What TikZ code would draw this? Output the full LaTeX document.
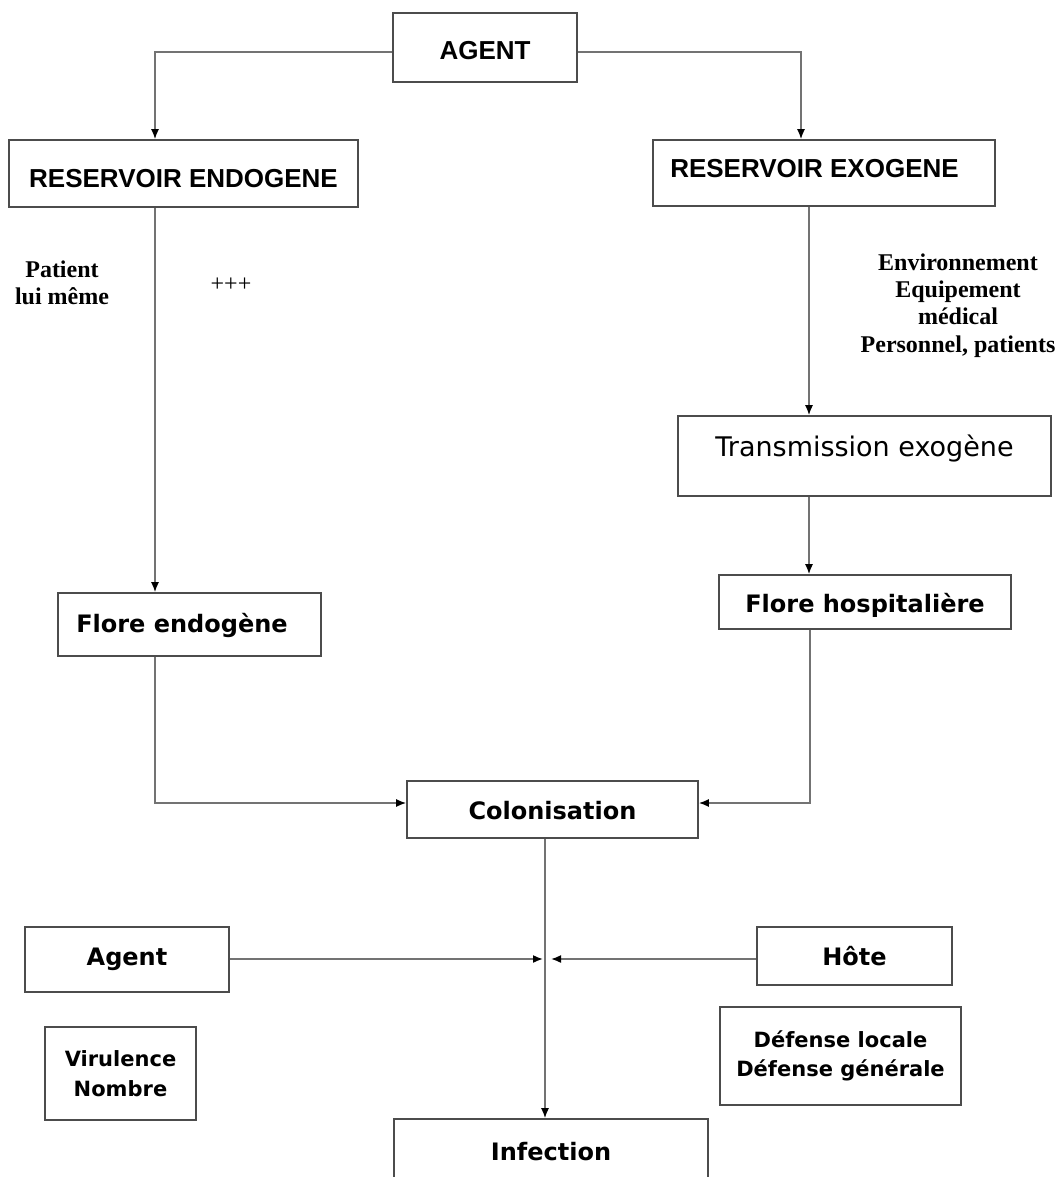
\documentclass[tikz,border=0pt]{standalone}
\usepackage{fontspec}
\newfontfamily\helv{Liberation Sans}
\newfontfamily\luc{DejaVu Sans}
\newfontfamily\tms{Liberation Serif}
\usetikzlibrary{arrows.meta}
\begin{document}
\begin{tikzpicture}[x=1pt,y=1pt,
  box/.style={draw=black!70, line width=1.6pt, inner sep=0pt, rectangle, fill=white},
  conn/.style={draw=black!55, line width=1.6pt, -{Latex[length=10pt,width=8pt,color=black]}},
  hb/.style={font=\helv\bfseries\fontsize{26}{31}\selectfont},
  lb/.style={font=\luc\bfseries\fontsize{24}{29}\selectfont},
  lr/.style={font=\luc\fontsize{27}{32}\selectfont},
  sb/.style={font=\luc\bfseries\fontsize{21}{29.5}\selectfont, align=center},
  tb/.style={font=\tms\bfseries\fontsize{24}{27.3}\selectfont, align=center},
  tr/.style={font=\tms\fontsize{24}{27}\selectfont}
]
\useasboundingbox (0,0) rectangle (1064,-1177);
\clip (0,0) rectangle (1064,-1177);

% boxes
\node[box,hb,minimum width=184pt,minimum height=69pt,text height=25pt,text depth=0pt] (agent) at (485,-47.5) {AGENT};
\node[box,hb,minimum width=349pt,minimum height=67pt,text height=27pt,text depth=0pt] (endo) at (183.5,-173.5) {RESERVOIR ENDOGENE};
\node[box,hb,minimum width=342pt,minimum height=66pt,text height=10pt,text depth=0pt] (exo) at (824,-173) {RESERVOIR EXOGENE\hspace*{19pt}};
\node[box,lr,minimum width=373pt,minimum height=80pt,text height=0pt,text depth=0pt] (trans) at (864.5,-456) {Transmission exogène};
\node[box,lb,minimum width=292pt,minimum height=54pt,text height=20pt,text depth=0pt] (fhosp) at (865,-602) {Flore hospitalière};
\node[box,lb,minimum width=263pt,minimum height=63pt,text height=15pt,text depth=0pt] (fendo) at (189.5,-624.5) {Flore endogène\hspace*{15pt}};
\node[box,lb,minimum width=291pt,minimum height=57pt,text height=19pt,text depth=0pt] (colon) at (552.5,-809.5) {Colonisation};
\node[box,lb,minimum width=204pt,minimum height=65pt,text height=11pt,text depth=0pt] (agent2) at (127,-959.5) {Agent};
\node[box,lb,minimum width=195pt,minimum height=58pt,text height=18pt,text depth=0pt] (hote) at (854.5,-956) {Hôte};
\node[box,sb,minimum width=151pt,minimum height=93pt] (vir) at (120.5,-1073.5) {Virulence\\Nombre};
\node[box,sb,minimum width=241pt,minimum height=98pt] (def) at (840.5,-1056) {Défense locale\\Défense générale};
\node[box,lb,minimum width=314pt,minimum height=81pt,text height=1pt,text depth=0pt] (inf) at (551,-1159.5) {Infection};

% free texts
\node[tb] (pat) at (62,-282.5) {Patient\\lui même};
\node[tr] (plus) at (231,-285) {+++};
\node[tb] (env) at (958,-305.5) {Environnement\\Equipement\\médical\\Personnel, patients};

% junction points
\coordinate (jl) at (543,-959);
\coordinate (jr) at (551,-959);

% connectors
\draw[conn] ([yshift=-4.5pt]agent.west) -| ([xshift=-28.5pt]endo.north);
\draw[conn] ([yshift=-4.5pt]agent.east) -| ([xshift=-23pt]exo.north);
\draw[conn] ([xshift=-28.5pt]endo.south) -- ([xshift=-34.5pt]fendo.north);
\draw[conn] ([xshift=-15pt]exo.south) -- ([xshift=-55.5pt]trans.north);
\draw[conn] ([xshift=-55.5pt]trans.south) -- ([xshift=-56pt]fhosp.north);
\draw[conn] ([xshift=-34.5pt]fendo.south) |- ([yshift=6.5pt]colon.west);
\draw[conn] ([xshift=-55pt]fhosp.south) |- ([yshift=6.5pt]colon.east);
\draw[conn] ([xshift=-7.5pt]colon.south) -- ([xshift=-6pt]inf.north);
\draw[conn] ([yshift=0.5pt]agent2.east) -- (jl);
\draw[conn] ([yshift=-3pt]hote.west) -- (jr);
\end{tikzpicture}
\end{document}
